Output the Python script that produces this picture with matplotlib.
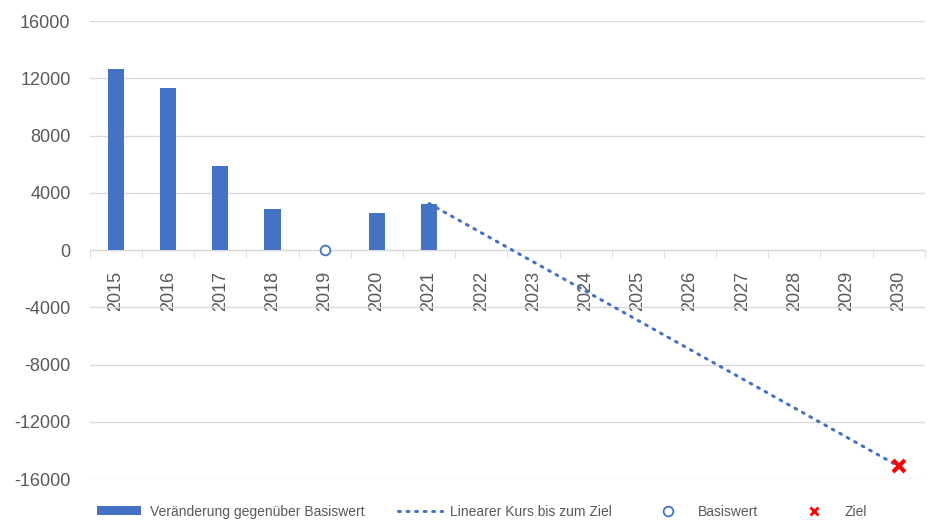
import matplotlib.pyplot as plt
import numpy as np

years = list(range(2015, 2031))
bar_years = [2015, 2016, 2017, 2018, 2019, 2020, 2021]
bar_values = [12650, 11350, 5900, 2870, np.nan, 2600, 3250]
base_year = 2019
base_value = 0
target_year = 2030
target_value = -15100
path_years = [2021, 2030]
path_values = [3250, -15100]

blue = '#4472C4'
grey = '#595959'
plt.rcParams['font.family'] = ['Liberation Sans', 'DejaVu Sans']
plt.rcParams['axes.unicode_minus'] = False

fig = plt.figure(figsize=(9.37, 5.26), dpi=100)
ax = fig.add_axes([0.096, 0.089, 0.891, 0.871])

pos = {y: i for i, y in enumerate(years)}
bars = ax.bar([pos[y] for y in bar_years], bar_values, width=0.31, color=blue,
              label='Veränderung gegenüber Basiswert', zorder=3)
path, = ax.plot([pos[y] for y in path_years], path_values, color=blue, lw=2.2,
                linestyle=(0, (0.6, 2.2)), dash_capstyle='round',
                label='Linearer Kurs bis zum Ziel', zorder=4)
base, = ax.plot([pos[base_year]], [base_value], 'o', mfc='white', mec=blue, mew=1.3,
                ms=7, linestyle='none', label='Basiswert', zorder=5)
goal, = ax.plot([pos[target_year]], [target_value], 'x', color='red', mew=3, ms=8,
                linestyle='none', label='Ziel', zorder=5)

ax.set_xlim(-0.5, len(years) - 0.5)
ax.set_ylim(-16000, 16000)
ax.set_yticks(np.arange(-16000, 16001, 4000))
ax.grid(axis='y', color='#d9d9d9', lw=1, zorder=0)
ax.set_axisbelow(True)

for s in ['left', 'right', 'top']:
    ax.spines[s].set_visible(False)
ax.spines['bottom'].set_position(('data', 0))
ax.spines['bottom'].set_color('#d9d9d9')
ax.spines['bottom'].set_zorder(2)

ax.set_xticks(range(len(years)))
ax.set_xticklabels([str(y) for y in years], rotation=90, color=grey, fontsize=13)
ax.set_xticks(np.arange(-0.5, len(years), 1), minor=True)
ax.tick_params(axis='x', which='major', length=0, pad=15)
ax.tick_params(axis='x', which='minor', length=6, color='#d9d9d9')
ax.tick_params(axis='y', length=0, labelcolor=grey, labelsize=13, pad=14)

leg = fig.legend(handles=[bars, path, base, goal], loc='lower left',
                 bbox_to_anchor=(0.09, -0.01), ncol=4, frameon=False,
                 fontsize=10, labelcolor=grey, columnspacing=2.4, handlelength=3.2,
                 handleheight=0.6, handletextpad=0.6)
leg.legend_handles[3].set_markersize(6)
leg.legend_handles[3].set_markeredgewidth(2)

fig.savefig('out.png', dpi=100)
